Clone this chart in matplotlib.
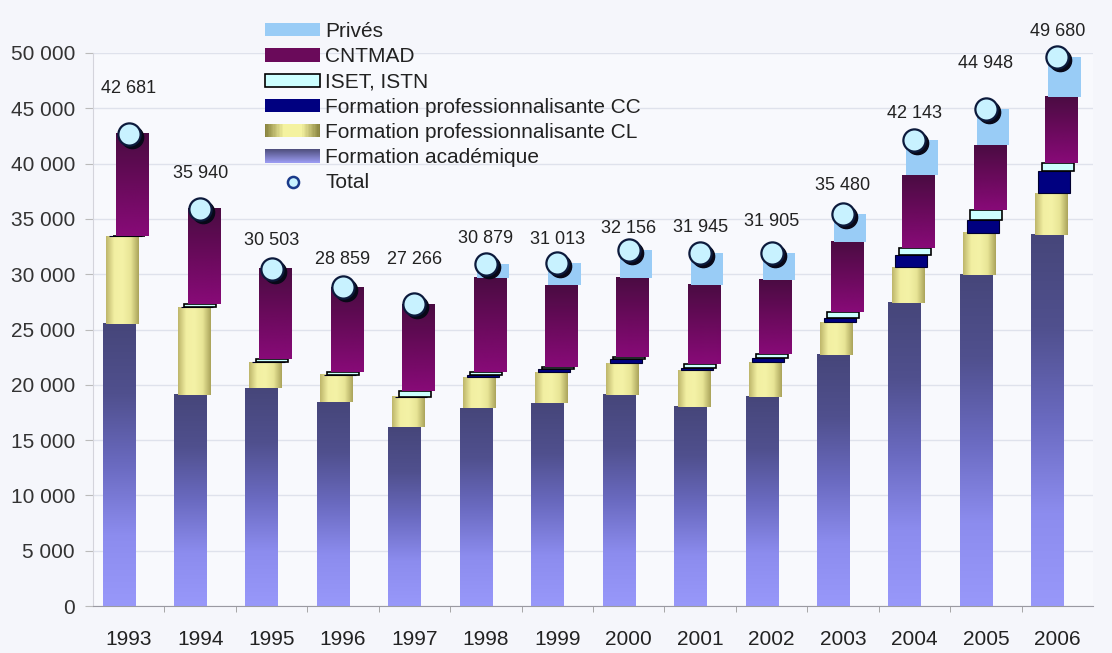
import numpy as np
import matplotlib
matplotlib.use("Agg")
import matplotlib.pyplot as plt
import matplotlib.transforms as mtransforms
from matplotlib.colors import LinearSegmentedColormap
from matplotlib.legend_handler import HandlerBase
from matplotlib.patches import Rectangle
from matplotlib.lines import Line2D

# ---- data: student numbers by type of training ----
years = ["1993", "1994", "1995", "1996", "1997", "1998", "1999",
         "2000", "2001", "2002", "2003", "2004", "2005", "2006"]
academique = [25500, 19100, 19700, 18440, 16180, 17900, 18350,
              19080, 18000, 18900, 22700, 27400, 29930, 33550]
prof_cl = [7950, 7900, 2350, 2450, 2720, 2800, 2800,
           2890, 3340, 3160, 2980, 3250, 3800, 3790]
prof_cc = [0, 0, 0, 0, 0, 200, 300,
           350, 200, 400, 400, 1050, 1200, 1950]
iset_istn = [0, 300, 300, 300, 500, 250, 200,
             150, 300, 300, 500, 700, 900, 750]
cntmad = [9231, 8640, 8153, 7669, 7866, 8510, 7370,
          7190, 7180, 6720, 6330, 6570, 5850, 5980]
prives = [0, 0, 0, 0, 0, 1219, 1993,
          2496, 2925, 2425, 2570, 3173, 3268, 3660]
total = [42681, 35940, 30503, 28859, 27266, 30879, 31013,
         32156, 31945, 31905, 35480, 42143, 44948, 49680]

# vertical offset of each total label above its marker (points)
label_lift = [33, 25, 20, 20, 32, 19, 17, 16, 18, 23, 20, 19, 33, 18]

plt.rcParams['font.family'] = ['Liberation Sans', 'DejaVu Sans']

W, H = 1112, 653
fig = plt.figure(figsize=(W / 100, H / 100), dpi=100, facecolor='#f5f6fb')
ax = fig.add_axes([93 / W, 47 / H, 1000 / W, 553 / H])
ax.set_facecolor('#f8f9fd')

x = np.arange(len(years))
bar_w = 0.45
base_dx = -0.14
step_dx = 0.048

# colour schemes
acad_cols = ['#46467a', '#50508e', '#6a6ac0', '#8c8cee', '#9898fa']
cl_cols = ['#bdb56a', '#f2efa2', '#f4f2a6', '#e8e596', '#aaa35a']
cntmad_cols = ['#4a0c42', '#6a0a5c', '#880a78']
cc_col = '#000080'
iset_col = '#ccffff'
prives_col = '#99ccf6'


def gradient_fill(patches, colors, direction, z):
    cmap = LinearSegmentedColormap.from_list('g', colors)
    for p in patches:
        x0, y0 = p.get_x(), p.get_y()
        w, h = p.get_width(), p.get_height()
        if h <= 0:
            continue
        if direction == 'v':
            arr = np.linspace(0, 1, 256).reshape(-1, 1)
        else:
            arr = np.linspace(0, 1, 256).reshape(1, -1)
        ax.imshow(arr, cmap=cmap, extent=[x0, x0 + w, y0, y0 + h],
                  aspect='auto', origin='upper', zorder=z,
                  interpolation='bilinear')


bottom = np.zeros(len(years))
series = [
    (academique, acad_cols[-1], 'none', 0),
    (prof_cl, cl_cols[1], 'none', 0),
    (prof_cc, cc_col, '#000030', 0.8),
    (iset_istn, iset_col, '#000000', 1.2),
    (cntmad, cntmad_cols[1], 'none', 0),
    (prives, prives_col, 'none', 0),
]
bar_groups = []
for level, (vals, fc, ec, lw) in enumerate(series):
    vals = np.asarray(vals, dtype=float)
    bars = ax.bar(x + base_dx + level * step_dx, vals, bar_w, bottom=bottom,
                  color=fc, edgecolor=ec, linewidth=lw, zorder=2 + level * 0.1)
    bar_groups.append(bars)
    bottom = bottom + vals

gradient_fill(bar_groups[0], acad_cols, 'v', 2.05)
gradient_fill(bar_groups[1], cl_cols, 'h', 2.15)
gradient_fill(bar_groups[4], cntmad_cols, 'v', 2.45)

# total markers with a dark drop shadow
shadow = ax.transData + mtransforms.ScaledTranslation(3 / 100, -3 / 100,
                                                      fig.dpi_scale_trans)
ax.plot(x, total, 'o', ms=16, color='#080818', transform=shadow,
        clip_on=False, zorder=5)
ax.plot(x, total, 'o', ms=16, mfc='#c8f2ff', mec='#0c1a3c', mew=1.6,
        clip_on=False, zorder=6)

for xi, t, lift in zip(x, total, label_lift):
    ax.annotate(f"{t:,}".replace(",", " "), (xi, t), xytext=(0, lift),
                textcoords='offset points', ha='center', va='center',
                fontsize=13, color='#222222', annotation_clip=False, zorder=7)

# axes
ax.set_xlim(-0.5, len(years) - 0.5)
ax.set_ylim(0, 50000)
ax.set_xticks(x)
ax.set_xticklabels(years)
ax.set_xticks(np.arange(0.5, len(years) - 0.5, 1), minor=True)
ax.tick_params(axis='x', which='major', length=0, pad=17, labelsize=15,
               labelcolor='#222222')
ax.tick_params(axis='x', which='minor', length=4, color='#999999',
               direction='out')
yt = np.arange(0, 50001, 5000)
ax.set_yticks(yt)
ax.set_yticklabels([f"{v:,}".replace(",", " ") for v in yt])
ax.tick_params(axis='y', length=6, color='#bbbbbb', pad=7, labelsize=15,
               labelcolor='#333333')
ax.yaxis.grid(True, color='#dfe2ec', lw=1)
ax.set_axisbelow(True)
for s in ('top', 'right'):
    ax.spines[s].set_visible(False)
ax.spines['left'].set_color('#d4d4dc')
ax.spines['bottom'].set_color('#9a9aa2')


# legend with gradient swatches
class GradientHandler(HandlerBase):
    def __init__(self, colors, direction):
        super().__init__()
        self.colors = colors
        self.direction = direction

    def create_artists(self, legend, orig_handle, xdescent, ydescent,
                       width, height, fontsize, trans):
        cmap = LinearSegmentedColormap.from_list('l', self.colors)
        n = 40
        arts = []
        for i in range(n):
            c = cmap(i / (n - 1))
            if self.direction == 'h':
                r = Rectangle((-xdescent + width * i / n, -ydescent),
                              width / n * 1.1, height, facecolor=c,
                              edgecolor='none', transform=trans)
            else:
                r = Rectangle((-xdescent, -ydescent + height * (1 - (i + 1) / n)),
                              width, height / n * 1.1, facecolor=c,
                              edgecolor='none', transform=trans)
            arts.append(r)
        return arts


h_prives = Rectangle((0, 0), 1, 1, facecolor=prives_col, edgecolor='none')
h_cntmad = Rectangle((0, 0), 1, 1, facecolor='#6a0a5a', edgecolor='none')
h_iset = Rectangle((0, 0), 1, 1, facecolor=iset_col, edgecolor='#000000', lw=1.2)
h_cc = Rectangle((0, 0), 1, 1, facecolor=cc_col, edgecolor='none')
h_cl = Rectangle((0, 0), 1, 1)
h_acad = Rectangle((0, 0), 1, 1)
h_total = Line2D([], [], marker='o', ls='none', mfc='#c8f2ff',
                 mec='#1a3a8a', mew=1.8, ms=8)

leg = fig.legend(
    [h_prives, h_cntmad, h_iset, h_cc, h_cl, h_acad, h_total],
    ["Privés", "CNTMAD", "ISET, ISTN", "Formation professionnalisante CC",
     "Formation professionnalisante CL", "Formation académique", "Total"],
    handler_map={h_cl: GradientHandler(['#8a8440', '#f4f2a0', '#f4f2a0', '#8a8440'], 'h'),
                 h_acad: GradientHandler(['#505080', '#9a9af0'], 'v')},
    loc='upper left', bbox_to_anchor=(265 / W, 1 - 22 / H),
    bbox_transform=fig.transFigure, frameon=False, fontsize=15,
    borderpad=0, borderaxespad=0, labelspacing=0.3, handlelength=2.65,
    handleheight=0.6, handletextpad=0.25)
for t in leg.get_texts():
    t.set_color('#222222')

fig.savefig("out.png", dpi=100, facecolor=fig.get_facecolor())
